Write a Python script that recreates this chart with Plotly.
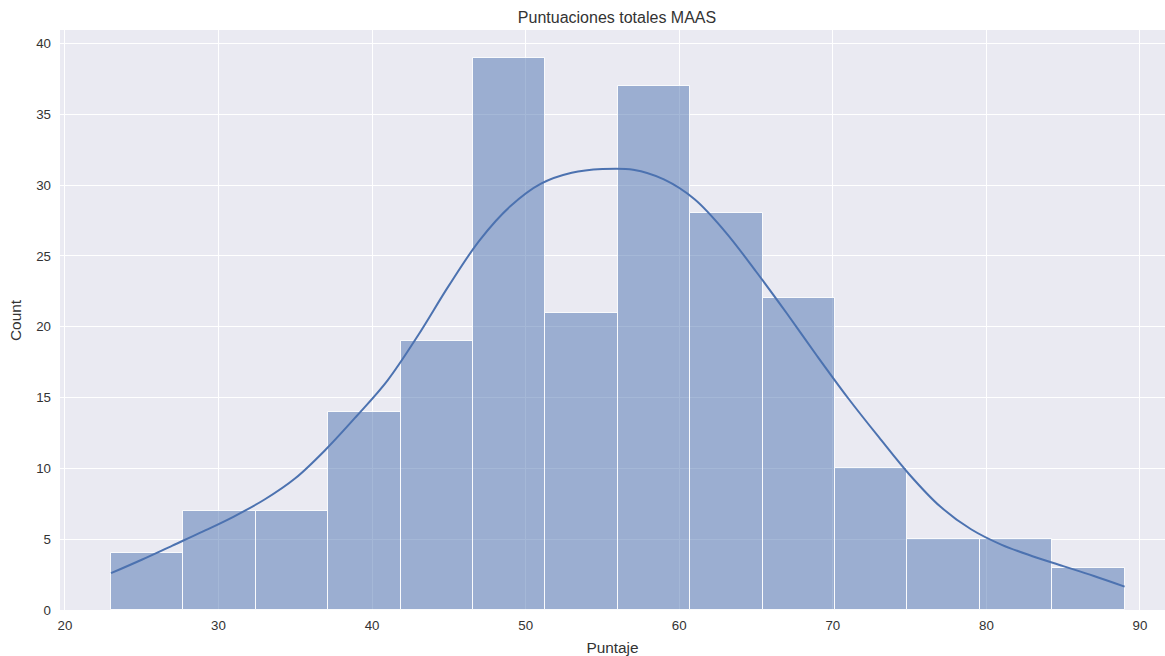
import numpy as np
import plotly.graph_objects as go

# Histogram of total MAAS scores
score_min = 23
score_max = 89
counts = [4, 7, 7, 14, 19, 39, 21, 37, 28, 22, 10, 5, 5, 3]

# Kernel density estimate, scaled to counts
kde_x = [23, 25, 27, 29, 31, 33, 35, 37, 39, 41, 43, 45, 47, 49, 51, 53, 55,
         57, 59, 61, 63, 65, 67, 69, 71, 73, 75, 77, 79, 81, 83, 85, 87, 89]
kde_y = [2.6, 3.55, 4.55, 5.55, 6.6, 7.8, 9.3, 11.35, 13.7, 16.2, 19.4,
         22.9, 26.1, 28.5, 30.1, 30.87, 31.13, 31.08, 30.4, 29.0, 26.7, 23.9,
         20.95, 17.9, 14.95, 12.2, 9.55, 7.3, 5.7, 4.6, 3.8, 3.1, 2.4, 1.65]

x_ticks = [20, 30, 40, 50, 60, 70, 80, 90]
y_ticks = [0, 5, 10, 15, 20, 25, 30, 35, 40]

edges = np.linspace(score_min, score_max, len(counts) + 1)
centers = (edges[:-1] + edges[1:]) / 2
widths = np.diff(edges)

blue = "#4C72B0"
text_color = "#333333"

fig = go.Figure()
fig.add_trace(go.Bar(
    x=centers, y=counts, width=widths,
    marker=dict(color="rgba(76,114,176,0.5)",
                line=dict(color="rgba(255,255,255,0.9)", width=1)),
    showlegend=False,
))
fig.add_trace(go.Scatter(
    x=kde_x, y=kde_y, mode="lines",
    line=dict(color=blue, width=2, shape="spline", smoothing=1.0),
    showlegend=False,
))

span = score_max - score_min
fig.update_layout(
    width=1165, height=656,
    margin=dict(l=60, r=0, t=30, b=46),
    paper_bgcolor="white",
    plot_bgcolor="#EAEAF2",
    bargap=0,
    font=dict(family="Liberation Sans, Arial, sans-serif", size=13, color=text_color),
    title=dict(text="Puntuaciones totales MAAS", x=617 / 1165, xanchor="center",
               y=1 - 17 / 656, yanchor="middle", yref="container",
               font=dict(size=16, color=text_color)),
    xaxis=dict(
        range=[score_min - 0.05 * span - 0.02, 91.63],
        tickvals=x_ticks, showgrid=True, gridcolor="white", gridwidth=1.3,
        zeroline=False, showline=False, ticks="", ticklabelstandoff=6,
        tickfont=dict(size=13.3),
        title=dict(text="Puntaje", font=dict(size=15.4, color=text_color), standoff=10),
    ),
    yaxis=dict(
        range=[0, max(counts) * 1.05],
        tickvals=y_ticks, showgrid=True, gridcolor="white", gridwidth=1.3,
        zeroline=False, showline=False, ticks="", ticklabelstandoff=8,
        tickfont=dict(size=13.3),
    ),
    annotations=[dict(
        text="Count", textangle=-90, showarrow=False,
        xref="paper", yref="paper", x=-45 / 1105, y=0.5,
        xanchor="center", yanchor="middle",
        font=dict(size=15.4, color=text_color),
    )],
)

fig.write_html("out.html")
